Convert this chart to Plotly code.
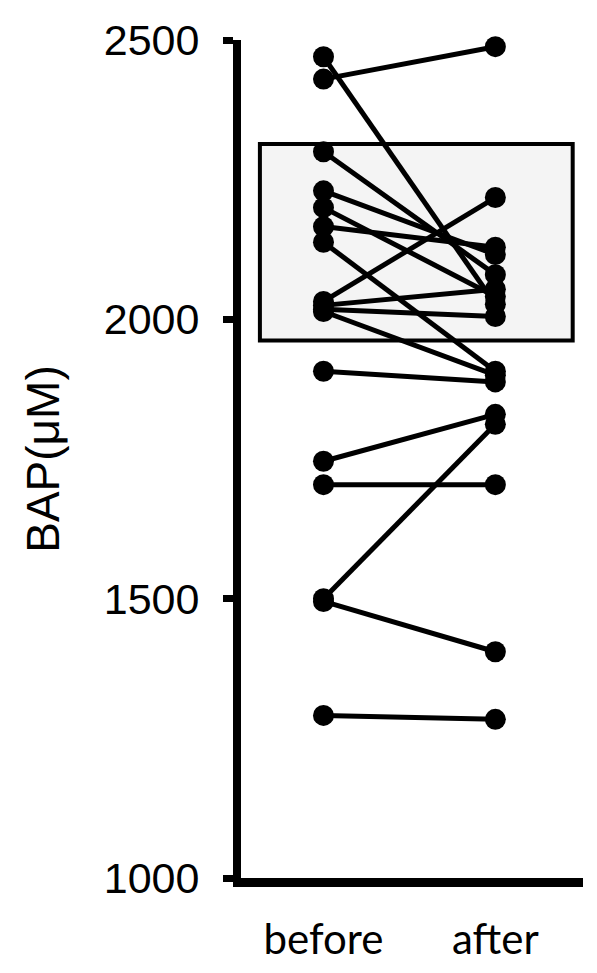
import plotly.graph_objects as go

categories = ["before", "after"]
before_vals = [2430, 2470, 2300, 2230, 2200, 2166, 2138, 2032, 2025, 2018, 2014, 1907, 1746, 1704, 1500, 1495, 1291]
after_vals = [2488, 2027, 2080, 2116, 2041, 2129, 1907, 2218, 2054, 2005, 1900, 1888, 1830, 1704, 1812, 1405, 1284]
ref_range = [1962, 2314]
y_ticks = [1000, 1500, 2000, 2500]
y_title = "BAP(μM)"

fig = go.Figure()
for b, a in zip(before_vals, after_vals):
    fig.add_trace(go.Scatter(
        x=[0, 1], y=[b, a], mode="lines+markers",
        line=dict(color="black", width=5),
        marker=dict(color="black", size=21),
        showlegend=False, hoverinfo="skip", cliponaxis=False,
    ))

fig.add_shape(type="rect", xref="x", yref="y",
              x0=-0.37, x1=1.45, y0=ref_range[0], y1=ref_range[1],
              fillcolor="#f4f4f4", line=dict(color="black", width=4), layer="below")

fig.update_layout(
    width=597, height=973,
    margin=dict(l=241, r=14, t=40, b=95),
    plot_bgcolor="white", paper_bgcolor="white",
    showlegend=False,
)
fig.update_xaxes(
    range=[-0.48, 1.51], tickvals=[0, 1], ticktext=categories, automargin=False,
    showline=True, linecolor="black", linewidth=9, ticks="", showgrid=False, zeroline=False,
    tickfont=dict(family="Lato", size=42, color="black"), ticklabelstandoff=17,
)
fig.update_yaxes(
    range=[1000, 2500], tickvals=y_ticks, automargin=False,
    showline=True, linecolor="black", linewidth=8, ticks="outside", ticklen=10, tickwidth=7,
    tickcolor="black", showgrid=False, zeroline=False,
    tickfont=dict(family="Liberation Sans", size=43, color="black"), ticklabelstandoff=15,
    title=dict(text=y_title, font=dict(family="Liberation Sans", size=46, color="black"), standoff=33),
)
fig.write_html("out.html")
